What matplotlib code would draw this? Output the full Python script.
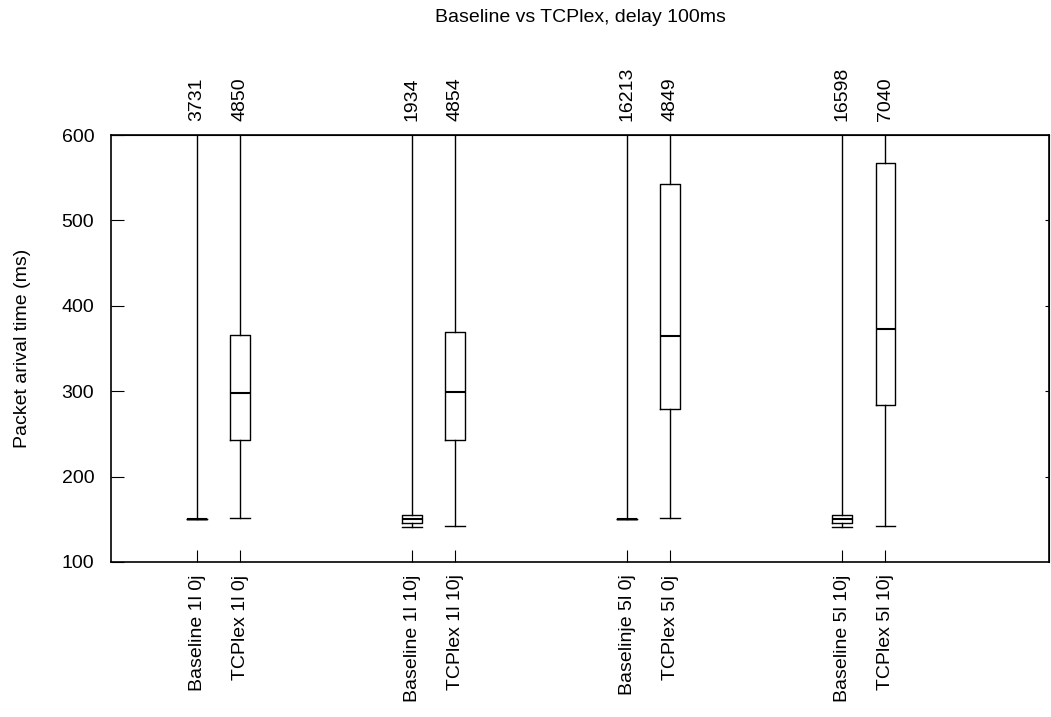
import matplotlib
matplotlib.use('Agg')
import matplotlib.pyplot as plt

plt.rcParams['font.family'] = 'Liberation Sans'
plt.rcParams['font.size'] = 14

# Dados
labels = ['Baseline 1l 0j', 'TCPlex 1l 0j', 'Baseline 1l 10j', 'TCPlex 1l 10j',
          'Baselinje 5l 0j', 'TCPlex 5l 0j', 'Baseline 5l 10j', 'TCPlex 5l 10j']
positions = [1, 2, 6, 7, 11, 12, 16, 17]
maximos = [3731, 4850, 1934, 4854, 16213, 4849, 16598, 7040]
minimos = [150, 151.5, 141, 142, 150, 151.5, 141, 142]
q1 = [150, 242.5, 146, 243, 150, 279.5, 146, 283.5]
medianas = [150, 297.5, 150, 299.5, 150, 365, 150, 373]
q3 = [150, 365.5, 154.5, 369, 150, 543, 154.5, 567.5]

stats = []
for i in range(len(labels)):
    stats.append(dict(med=medianas[i], q1=q1[i], q3=q3[i],
                      whislo=minimos[i], whishi=maximos[i], fliers=[]))

fig = plt.figure(figsize=(10.51, 7.17), dpi=100)
ax = fig.add_axes([0.1056, 0.2162, 0.8924, 0.5955])

ax.bxp(stats, positions=positions, widths=0.46, showfliers=False,
       boxprops=dict(color='black', linewidth=1),
       whiskerprops=dict(color='black', linewidth=1),
       capprops=dict(color='black', linewidth=1),
       medianprops=dict(color='black', linewidth=1.5),
       capwidths=0.46)

ax.set_xlim(-1, 20.8)
ax.set_ylim(100, 600)
ax.set_yticks([100, 200, 300, 400, 500, 600])
ax.set_xticks(positions)
ax.set_xticklabels(labels, rotation=90)
ax.tick_params(axis='x', direction='in', length=9, pad=9, bottom=True, top=False)
ax.tick_params(axis='y', direction='in', length=9, pad=12, left=True)
for s in ax.spines.values():
    s.set_linewidth(1.2)

# mirror ticks à direita (curtos)
ax_r = ax.secondary_yaxis('right')
ax_r.set_yticks([200, 300, 400, 500])
ax_r.tick_params(direction='in', length=3, labelright=False)

# valores máximos no topo
ax_t = ax.secondary_xaxis('top')
ax_t.set_xticks(positions)
ax_t.set_xticklabels([str(m) for m in maximos], rotation=90)
ax_t.tick_params(direction='in', length=0, pad=10)

ax.set_ylabel('Packet arival time (ms)', labelpad=22)
fig.suptitle('Baseline vs TCPlex, delay 100ms', x=0.552, y=0.988, fontsize=14, va='top')

plt.savefig('out.png', dpi=100)
